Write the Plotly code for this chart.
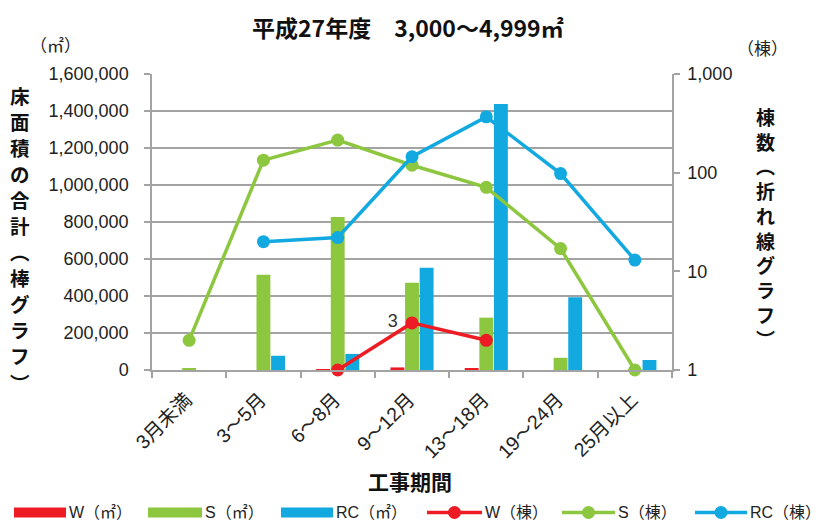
import plotly.graph_objects as go

# ---------------- data ----------------
categories = ["3月未満", "3～5月", "6～8月", "9～12月", "13～18月", "19～24月", "25月以上"]
w_area = [0, 0, 5000, 14000, 10000, 0, 0]
s_area = [9000, 515000, 827000, 472000, 283000, 66000, 3000]
rc_area = [0, 77000, 87000, 553000, 1438000, 393000, 54000]
w_count = [None, None, 1, 3, 2, None, None]
s_count = [2, 134, 214, 119, 71, 17, 1]
rc_count = [None, 20, 22, 145, 368, 98, 13]
w_count_labels = ["", "", "", "3 ", "", "", ""]
left_ticks = [0, 200000, 400000, 600000, 800000, 1000000, 1200000, 1400000, 1600000]
right_ticks = [1, 10, 100, 1000]
right_ticktext = ["1", "10", "100", "1,000"]

RED = "#ED1C24"
GREEN = "#8DC63F"
BLUE = "#12A9E1"
GRID = "#A3A3A3"
FONT = "'Liberation Sans', Arial, 'Noto Sans CJK JP', sans-serif"
CJK = "'Noto Sans CJK JP', sans-serif"

W, H = 821, 525
L, R, T, B = 152, 672, 74, 370


def px(x):
    return (x - L) / (R - L)


def py(y):
    return (B - y) / (B - T)


fig = go.Figure()

for name, vals, col in [("W(㎡)", w_area, RED), ("S(㎡)", s_area, GREEN), ("RC(㎡)", rc_area, BLUE)]:
    fig.add_trace(go.Bar(x=categories, y=vals, name=name, marker=dict(color=col, line=dict(width=0)),
                         showlegend=False))

for name, vals, col, txt in [("W(棟)", w_count, RED, w_count_labels),
                             ("S(棟)", s_count, GREEN, None),
                             ("RC(棟)", rc_count, BLUE, None)]:
    fig.add_trace(go.Scatter(x=categories, y=vals, name=name, yaxis="y2",
                             mode="lines+markers+text" if txt else "lines+markers",
                             text=txt, textposition="middle left",
                             textfont=dict(family=FONT, size=18, color="#333333"),
                             line=dict(color=col, width=3.5),
                             marker=dict(color=col, size=13),
                             connectgaps=False, showlegend=False, cliponaxis=False))

fig.update_layout(
    width=W, height=H,
    margin=dict(l=L, r=W - R, t=T, b=H - B),
    paper_bgcolor="white", plot_bgcolor="white",
    barmode="group", bargap=0.41, bargroupgap=0.05,
    font=dict(family=FONT, size=17, color="#222222"),
    showlegend=False,
    xaxis=dict(type="category", tickson="boundaries", ticks="outside", ticklen=6,
               tickcolor=GRID, tickwidth=1.5, showline=True, linecolor=GRID, linewidth=1.5,
               tickangle=-45, ticklabelstandoff=9, ticklabelshift=-3,
               tickfont=dict(family=FONT, size=19.5, color="#222222"),
               showgrid=False, zeroline=False),
    yaxis=dict(range=[0, 1600000], tickvals=left_ticks, tickformat=",d",
               showgrid=True, gridcolor=GRID, gridwidth=1.5, zeroline=False,
               showline=True, linecolor=GRID, linewidth=1.5, ticks="outside", ticklen=6,
               tickcolor=GRID, tickwidth=1.5, ticklabelstandoff=12,
               tickfont=dict(family=FONT, size=18, color="#222222")),
    yaxis2=dict(type="log", range=[0, 3], overlaying="y", side="right",
                tickvals=right_ticks, ticktext=right_ticktext, showgrid=False, zeroline=False,
                showline=True, linecolor=GRID, linewidth=1.5, ticks="outside", ticklen=6,
                tickcolor=GRID, tickwidth=1.5, ticklabelstandoff=4,
                tickfont=dict(family=FONT, size=18, color="#222222")),
)

ann = []
# title
ann.append(dict(x=px(408), y=py(27), xref="paper", yref="paper", showarrow=False,
                text="<b>平成27年度　3,000～4,999㎡</b>", font=dict(family=CJK, size=23, color="#111111"),
                xanchor="center", yanchor="middle"))
# unit labels
ann.append(dict(x=px(55), y=py(45), xref="paper", yref="paper", showarrow=False,
                text="（㎡）", font=dict(family=CJK, size=17, color="#222222"),
                xanchor="center", yanchor="middle"))
ann.append(dict(x=px(762), y=py(48), xref="paper", yref="paper", showarrow=False,
                text="（棟）", font=dict(family=CJK, size=17, color="#222222"),
                xanchor="center", yanchor="middle"))
# vertical axis titles (one character per line)
left_title = ["床", "面", "積", "の", "合", "計", "︵", "棒", "グ", "ラ", "フ", "︶"]
right_title = ["棟", "数", "︵", "折", "れ", "線", "グ", "ラ", "フ", "︶"]
top_y, bottom_y = 95, 382
step = (bottom_y - top_y) / (len(left_title) - 1)
for i, ch in enumerate(left_title):
    ann.append(dict(x=px(20), y=py(top_y + i * step), xref="paper", yref="paper", showarrow=False,
                    text="<b>" + ch + "</b>", font=dict(family=CJK, size=19.5, color="#111111"),
                    xanchor="center", yanchor="middle"))
ann.append(dict(x=px(765), y=py(227), xref="paper", yref="paper", showarrow=False,
                text="<b>" + "<br>".join(right_title) + "</b>",
                font=dict(family=CJK, size=19, color="#111111"),
                xanchor="center", yanchor="middle"))
# x-axis title
ann.append(dict(x=px(410), y=py(481), xref="paper", yref="paper", showarrow=False,
                text="<b>工事期間</b>", font=dict(family=CJK, size=21, color="#111111"),
                xanchor="center", yanchor="middle"))

# custom legend
shapes = []
ly = 512.5
legend_items = [
    ("bar", RED, "W（㎡）", 14, 66),
    ("bar", GREEN, "S（㎡）", 148, 202),
    ("bar", BLUE, "RC（㎡）", 281, 333),
    ("line", RED, "W（棟）", 427, 482),
    ("line", GREEN, "S（棟）", 562, 615),
    ("line", BLUE, "RC（棟）", 695, 747),
]
for kind, col, label, x0, x1 in legend_items:
    if kind == "bar":
        shapes.append(dict(type="rect", xref="paper", yref="paper", x0=px(x0), x1=px(x1),
                           y0=py(ly + 5), y1=py(ly - 5), fillcolor=col, line=dict(width=0)))
    else:
        shapes.append(dict(type="line", xref="paper", yref="paper", x0=px(x0), x1=px(x1),
                           y0=py(ly), y1=py(ly), line=dict(color=col, width=3.5)))
        xm = (x0 + x1) / 2
        shapes.append(dict(type="circle", xref="paper", yref="paper", x0=px(xm - 6.5), x1=px(xm + 6.5),
                           y0=py(ly + 6.5), y1=py(ly - 6.5), fillcolor=col, line=dict(width=0)))
    ann.append(dict(x=px(x1 + 1), y=py(ly), xref="paper", yref="paper", showarrow=False,
                    text=label, font=dict(family=FONT, size=16, color="#222222"),
                    xanchor="left", yanchor="middle"))

fig.update_layout(annotations=ann, shapes=shapes)
fig.write_html("out.html", config={"displayModeBar": False},
               post_script="document.body.style.margin='0px';document.body.style.padding='0px';")
